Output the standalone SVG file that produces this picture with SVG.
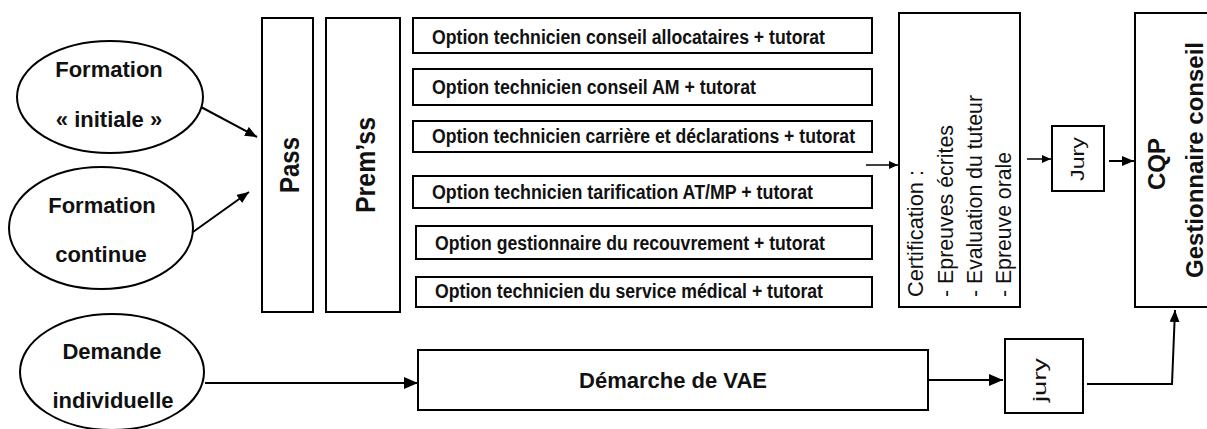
<svg xmlns="http://www.w3.org/2000/svg" width="1207" height="429" viewBox="0 0 1207 429">
<style>
.shape{fill:#fff;stroke:#000;stroke-width:2}
.line{fill:none;stroke:#000;stroke-width:2}
.b{font-family:"Liberation Sans",Arial,sans-serif;font-weight:bold;fill:#111}
.r{font-family:"Liberation Sans",Arial,sans-serif;fill:#111}
.opt{font-size:20px}
.ell{font-size:22px;text-anchor:middle}
</style>
<defs>
<marker id="ah" viewBox="0 0 12 10" refX="12" refY="5" markerWidth="12" markerHeight="10" markerUnits="userSpaceOnUse" orient="auto"><path d="M0,0 L12,5 L0,10 z" fill="#000"/></marker>
<marker id="ahs" viewBox="0 0 9 8" refX="9" refY="4" markerWidth="9" markerHeight="8" markerUnits="userSpaceOnUse" orient="auto"><path d="M0,0 L9,4 L0,8 z" fill="#000"/></marker>
<marker id="ahl" viewBox="0 0 14 12" refX="14" refY="6" markerWidth="14" markerHeight="12" markerUnits="userSpaceOnUse" orient="auto"><path d="M0,0 L14,6 L0,12 z" fill="#000"/></marker>
</defs>
<rect width="1207" height="429" fill="#fff"/>

<g id="connectors">
<line class="line" x1="201" y1="107" x2="257" y2="137" marker-end="url(#ah)"/>
<line class="line" x1="193" y1="232" x2="249" y2="192" marker-end="url(#ah)"/>
<line class="line" x1="205" y1="383" x2="418" y2="383" marker-end="url(#ahl)"/>
<line class="line" x1="866" y1="165" x2="898" y2="165" marker-end="url(#ahs)" style="stroke-width:1.5"/>
<line class="line" x1="1027" y1="159" x2="1051" y2="159" marker-end="url(#ahs)" style="stroke-width:1.5"/>
<line class="line" x1="1109" y1="161" x2="1134" y2="161" marker-end="url(#ah)"/>
<line class="line" x1="928" y1="380" x2="1003" y2="380" marker-end="url(#ahl)"/>
<path class="line" d="M1087,384 H1172 L1175,310" marker-end="url(#ah)"/>
</g>

<g id="formation-initiale">
<ellipse class="shape" cx="110" cy="97" rx="93" ry="56"/>
<text class="b ell" x="109" y="77">Formation</text>
<text class="b ell" x="109" y="127">« initiale »</text>
</g>
<g id="formation-continue">
<ellipse class="shape" cx="101" cy="228" rx="92" ry="61"/>
<text class="b ell" x="102" y="213">Formation</text>
<text class="b ell" x="101" y="262">continue</text>
</g>
<g id="demande-individuelle">
<ellipse class="shape" cx="112" cy="372" rx="92" ry="58"/>
<text class="b ell" x="112" y="359">Demande</text>
<text class="b ell" x="113" y="408">individuelle</text>
</g>

<g id="pass">
<rect class="shape" x="262" y="18" width="51" height="294"/>
<text class="b" font-size="28" text-anchor="middle" textLength="56" lengthAdjust="spacingAndGlyphs" transform="translate(299,165) rotate(-90)">Pass</text>
</g>
<g id="premss">
<rect class="shape" x="326" y="18" width="74" height="294"/>
<text class="b" font-size="28" text-anchor="middle" textLength="96" lengthAdjust="spacingAndGlyphs" transform="translate(375,165) rotate(-90)">Prem’ss</text>
</g>

<g id="opt1">
<rect class="shape" x="413" y="18" width="459" height="35"/>
<text class="b opt" x="432" y="44" textLength="393" lengthAdjust="spacingAndGlyphs">Option technicien conseil allocataires + tutorat</text>
</g>
<g id="opt2">
<rect class="shape" x="413" y="69" width="459" height="36"/>
<text class="b opt" x="432" y="94" textLength="324" lengthAdjust="spacingAndGlyphs">Option technicien conseil AM + tutorat</text>
</g>
<g id="opt3">
<rect class="shape" x="413" y="121" width="459" height="31"/>
<text class="b opt" x="432" y="143" textLength="423" lengthAdjust="spacingAndGlyphs">Option technicien carrière et déclarations + tutorat</text>
</g>
<g id="opt4">
<rect class="shape" x="413" y="176" width="459" height="32"/>
<text class="b opt" x="432" y="199" textLength="381" lengthAdjust="spacingAndGlyphs">Option technicien tarification AT/MP + tutorat</text>
</g>
<g id="opt5">
<rect class="shape" x="416" y="226" width="456" height="33"/>
<text class="b opt" x="435" y="250" textLength="390" lengthAdjust="spacingAndGlyphs">Option gestionnaire du recouvrement + tutorat</text>
</g>
<g id="opt6">
<rect class="shape" x="416" y="277" width="456" height="30"/>
<text class="b opt" x="435" y="298" textLength="388" lengthAdjust="spacingAndGlyphs">Option technicien du service médical + tutorat</text>
</g>

<g id="certification">
<rect class="shape" x="899" y="13" width="121" height="294"/>
<g class="r" font-size="22" lengthAdjust="spacingAndGlyphs">
<text transform="translate(923,297) rotate(-90)" textLength="127" lengthAdjust="spacingAndGlyphs">Certification :</text>
<text transform="translate(953,297) rotate(-90)" textLength="172" lengthAdjust="spacingAndGlyphs">- Epreuves écrites</text>
<text transform="translate(982,297) rotate(-90)" textLength="202" lengthAdjust="spacingAndGlyphs">- Evaluation du tuteur</text>
<text transform="translate(1011,297) rotate(-90)" textLength="145" lengthAdjust="spacingAndGlyphs">- Epreuve orale</text>
</g>
</g>

<g id="jury1">
<rect class="shape" x="1052" y="126" width="52" height="65"/>
<text class="r" font-size="19" text-anchor="middle" textLength="44" lengthAdjust="spacingAndGlyphs" transform="translate(1084,159) rotate(-90)">Jury</text>
</g>

<g id="cqp">
<rect class="shape" x="1135" y="13" width="80" height="294"/>
<text class="b" font-size="24" text-anchor="middle" transform="translate(1165,164) rotate(-90)">CQP</text>
<text class="b" font-size="24" text-anchor="middle" transform="translate(1203,160) rotate(-90)">Gestionnaire conseil</text>
</g>

<g id="demarche-vae">
<rect class="shape" x="418" y="350" width="510" height="60"/>
<text class="b" font-size="22" text-anchor="middle" x="673" y="388">Démarche de VAE</text>
</g>

<g id="jury2">
<rect class="shape" x="1005" y="339" width="78" height="74"/>
<text class="r" font-size="19" text-anchor="middle" textLength="44" lengthAdjust="spacingAndGlyphs" transform="translate(1046,380) rotate(-90)">jury</text>
</g>
</svg>
